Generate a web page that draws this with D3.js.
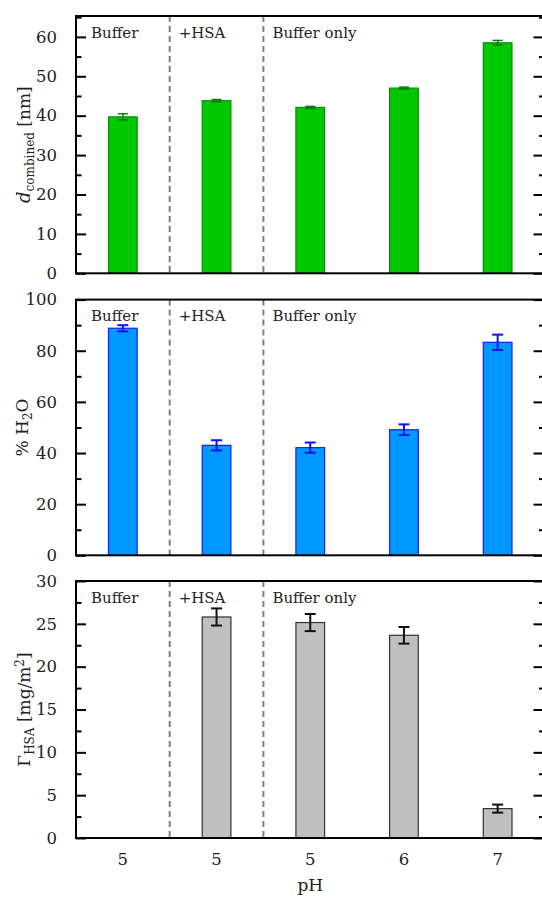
<!DOCTYPE html>
<html>
<head>
<meta charset="utf-8">
<script src="https://cdn.jsdelivr.net/npm/d3@7"></script>
<style>
  html, body { margin: 0; padding: 0; background: #fff; overflow: hidden; }
  svg { display: block; }
  text { font-family: "DejaVu Serif", "Liberation Serif", serif; fill: #222; }
</style>
</head>
<body>
<svg id="chart" width="542" height="897"></svg>
<script>
// ---- data ----
const categories = [0, 1, 2, 3, 4];
const phLabels = ["5", "5", "5", "6", "7"];
const groupLabels = ["Buffer", "+HSA", "Buffer only"];
const groupStarts = [0, 1, 2];
const dividers = [0.5, 1.5];          // boundaries between groups (in category units)

const dCombined = [39.7, 43.8, 42.1, 47.0, 58.5];
const dCombinedErr = [0.8, 0.3, 0.25, 0.25, 0.6];

const water = [88.8, 43.0, 42.1, 49.1, 83.3];
const waterErr = [1.2, 2.0, 2.0, 2.1, 3.0];

const gamma = [null, 25.8, 25.15, 23.66, 3.43];
const gammaErr = [null, 1.0, 1.0, 0.97, 0.47];

const dTicks = [0, 10, 20, 30, 40, 50, 60];
const waterTicks = [0, 20, 40, 60, 80, 100];
const gammaTicks = [0, 5, 10, 15, 20, 25, 30];

// ---- layout ----
const svg = d3.select("#chart");
const left = 76, right = 544.5;
const x = d3.scaleLinear().domain([-0.5, 4.5]).range([left, right]);
const barW = 0.306 * (x(1) - x(0));

const panels = [
  { top: 16, bottom: 273.3, domain: [0, 65.3], vals: dCombined, errs: dCombinedErr,
    major: dTicks, minorStep: 5, fill: "#00c800", stroke: "#0a8a0a", errColor: "#0b7a0b", errW: 1.5, capW: 10,
    label: "d" },
  { top: 299.6, bottom: 555.3, domain: [0, 100], vals: water, errs: waterErr,
    major: waterTicks, minorStep: 10, fill: "#0099ff", stroke: "#1a1aff", errColor: "#1010ff", errW: 2, capW: 11,
    label: "w" },
  { top: 581, bottom: 838, domain: [0, 30], vals: gamma, errs: gammaErr,
    major: gammaTicks, minorStep: 2.5, fill: "#c0c0c0", stroke: "#333", errColor: "#111", errW: 2, capW: 11,
    label: "g" }
];

panels.forEach((p, pi) => {
  const y = d3.scaleLinear().domain(p.domain).range([p.bottom, p.top]);
  const g = svg.append("g");

  // dashed dividers
  g.selectAll("line.div").data(dividers).enter().append("line")
    .attr("x1", d => x(d)).attr("x2", d => x(d))
    .attr("y1", p.top).attr("y2", p.bottom)
    .attr("stroke", "#808080").attr("stroke-width", 2)
    .attr("stroke-dasharray", "6,4");

  // bars
  const data = categories.map(i => ({ i, v: p.vals[i], e: p.errs[i] })).filter(d => d.v != null);
  g.selectAll("rect.bar").data(data).enter().append("rect")
    .attr("x", d => x(d.i) - barW / 2)
    .attr("width", barW)
    .attr("y", d => y(d.v))
    .attr("height", d => y(0) - y(d.v))
    .attr("fill", p.fill)
    .attr("stroke", p.stroke)
    .attr("stroke-width", 1.2);

  // error bars
  const eg = g.selectAll("g.err").data(data).enter().append("g")
    .attr("stroke", p.errColor).attr("stroke-width", p.errW);
  eg.append("line")
    .attr("x1", d => x(d.i)).attr("x2", d => x(d.i))
    .attr("y1", d => y(d.v - d.e)).attr("y2", d => y(d.v + d.e));
  eg.append("line")
    .attr("x1", d => x(d.i) - p.capW / 2).attr("x2", d => x(d.i) + p.capW / 2)
    .attr("y1", d => y(d.v + d.e)).attr("y2", d => y(d.v + d.e));
  eg.append("line")
    .attr("x1", d => x(d.i) - p.capW / 2).attr("x2", d => x(d.i) + p.capW / 2)
    .attr("y1", d => y(d.v - d.e)).attr("y2", d => y(d.v - d.e));

  // group labels
  g.selectAll("text.grp").data(groupLabels).enter().append("text")
    .attr("x", (d, k) => (k === 0 ? x(-0.5) + 15 : x(groupStarts[k] - 0.5) + 9))
    .attr("y", p.top + 21.5)
    .attr("font-size", 15)
    .text(d => d);

  // ticks
  const minor = d3.range(p.domain[0], p.domain[1] + 1e-9, p.minorStep)
    .filter(v => !p.major.some(m => Math.abs(m - v) < 1e-9));
  const leftAxis = d3.axisLeft(y).tickValues(p.major).tickSizeInner(-10).tickSizeOuter(0).tickPadding(19)
    .tickFormat(d3.format("d"));
  const la = g.append("g").attr("transform", `translate(${left},0)`).call(leftAxis);
  la.select(".domain").remove();
  la.selectAll(".tick line").attr("stroke", "#000").attr("stroke-width", 2);
  la.selectAll(".tick text").attr("font-size", 16.5).attr("font-family", "DejaVu Serif, serif").attr("fill", "#222");

  const laMinor = d3.axisLeft(y).tickValues(minor).tickSizeInner(-5.5).tickSizeOuter(0).tickFormat("");
  const lm = g.append("g").attr("transform", `translate(${left},0)`).call(laMinor);
  lm.select(".domain").remove();
  lm.selectAll(".tick line").attr("stroke", "#000").attr("stroke-width", 2);

  const ra = g.append("g").attr("transform", `translate(${right},0)`)
    .call(d3.axisRight(y).tickValues(p.major).tickSizeInner(-11).tickSizeOuter(0).tickFormat(""));
  ra.select(".domain").remove();
  ra.selectAll(".tick line").attr("stroke", "#000").attr("stroke-width", 2);
  const rm = g.append("g").attr("transform", `translate(${right},0)`)
    .call(d3.axisRight(y).tickValues(minor).tickSizeInner(-5.5).tickSizeOuter(0).tickFormat(""));
  rm.select(".domain").remove();
  rm.selectAll(".tick line").attr("stroke", "#000").attr("stroke-width", 2);

  // frame
  g.append("rect")
    .attr("x", left).attr("y", p.top)
    .attr("width", right - left).attr("height", p.bottom - p.top)
    .attr("fill", "none").attr("stroke", "#000").attr("stroke-width", 2);

  // y label
  const cy = (p.top + p.bottom) / 2;
  const t = svg.append("text")
    .attr("transform", `translate(${pi === 1 ? 28 : 30},${cy}) rotate(-90)`)
    .attr("text-anchor", "middle")
    .attr("font-size", 17);
  if (p.label === "d") {
    t.append("tspan").attr("font-style", "italic").attr("font-size", 18).text("d");
    t.append("tspan").attr("font-size", 12).attr("dy", 4).text("combined");
    t.append("tspan").attr("dy", -4).text(" [nm]");
  } else if (p.label === "w") {
    t.append("tspan").text("% H");
    t.append("tspan").attr("font-size", 12).attr("dy", 4).text("2");
    t.append("tspan").attr("dy", -4).text("O");
  } else {
    t.append("tspan").text("Γ");
    t.append("tspan").attr("font-size", 12).attr("dy", 4).text("HSA");
    t.append("tspan").attr("dy", -4).text(" [mg/m");
    t.append("tspan").attr("font-size", 12).attr("dy", -6).text("2");
    t.append("tspan").attr("dy", 6).text("]");
  }
});

// x tick labels (bottom panel only)
svg.selectAll("text.xt").data(categories).enter().append("text")
  .attr("x", d => x(d)).attr("y", 865)
  .attr("text-anchor", "middle").attr("font-size", 16.5)
  .text(d => phLabels[d]);

svg.append("text")
  .attr("x", (left + right) / 2).attr("y", 891)
  .attr("text-anchor", "middle").attr("font-size", 17)
  .text("pH");
</script>
</body>
</html>
